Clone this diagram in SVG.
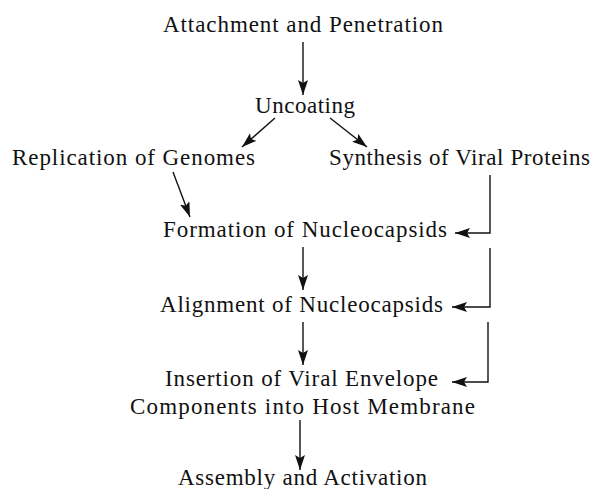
<svg xmlns="http://www.w3.org/2000/svg" width="602" height="489" viewBox="0 0 602 489">
<style>
text{font-family:"Liberation Serif","Times New Roman",serif;font-size:23px;fill:#111;}
.c{fill:none;stroke:#111;stroke-width:1.4;}
</style>
<defs>
<marker id="ah" markerUnits="userSpaceOnUse" markerWidth="16" markerHeight="12" refX="15" refY="5" orient="auto">
<path d="M0,0 L15,5 L0,10 L3,5 z" fill="#111"/>
</marker>
</defs>
<rect width="602" height="489" fill="#fff"/>
<g id="attach"><text x="163" y="32" textLength="280" lengthAdjust="spacing">Attachment and Penetration</text></g>
<g id="uncoat"><text x="255" y="113" textLength="100" lengthAdjust="spacing">Uncoating</text></g>
<g id="replic"><text x="12" y="165" textLength="243" lengthAdjust="spacing">Replication of Genomes</text></g>
<g id="synth"><text x="329" y="165" textLength="261" lengthAdjust="spacing">Synthesis of Viral Proteins</text></g>
<g id="form"><text x="163" y="237" textLength="284" lengthAdjust="spacing">Formation of Nucleocapsids</text></g>
<g id="align"><text x="160" y="312" textLength="283" lengthAdjust="spacing">Alignment of Nucleocapsids</text></g>
<g id="insert"><text x="165" y="386" textLength="273" lengthAdjust="spacing">Insertion of Viral Envelope</text>
<text x="130" y="414" textLength="345" lengthAdjust="spacing">Components into Host Membrane</text></g>
<g id="assembly"><text x="178" y="485" textLength="249" lengthAdjust="spacing">Assembly and Activation</text></g>
<g id="connectors">
<path class="c" d="M303,42 V95" marker-end="url(#ah)"/>
<path class="c" d="M275,118 L242,147" marker-end="url(#ah)"/>
<path class="c" d="M330,118 L367,147" marker-end="url(#ah)"/>
<path class="c" d="M173,172 L190,217" marker-end="url(#ah)"/>
<path class="c" d="M490,175 V233 H455" marker-end="url(#ah)"/>
<path class="c" d="M303,247 V290" marker-end="url(#ah)"/>
<path class="c" d="M490,248 V307 H452" marker-end="url(#ah)"/>
<path class="c" d="M303,322 V365" marker-end="url(#ah)"/>
<path class="c" d="M488,322 V382 H452" marker-end="url(#ah)"/>
<path class="c" d="M300,420 V470" marker-end="url(#ah)"/>
</g>
</svg>
